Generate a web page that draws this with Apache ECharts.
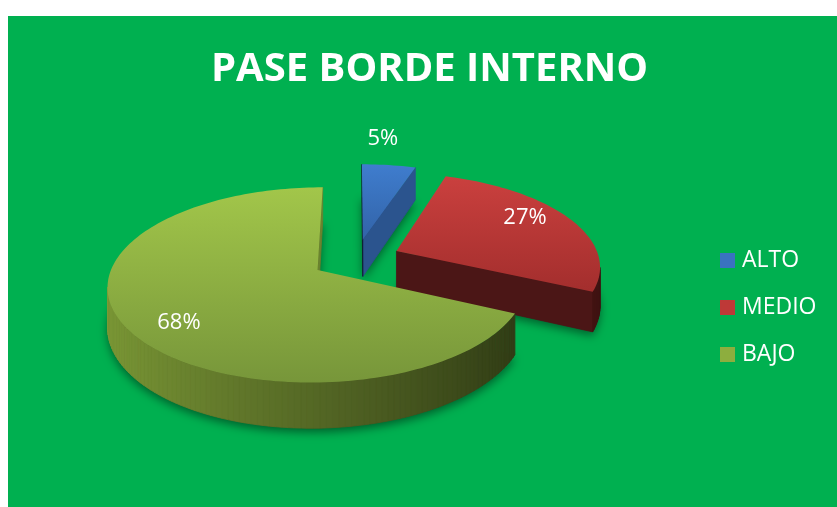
<!DOCTYPE html>
<html>
<head>
<meta charset="utf-8">
<script src="https://cdn.jsdelivr.net/npm/echarts@6.0.0/dist/echarts.min.js"></script>
<style>
  html, body { margin: 0; padding: 0; background: #fff; }
  #chart { position: absolute; left: 8px; top: 16px; width: 829px; height: 491px; }
</style>
</head>
<body>
<div id="chart"></div>
<script>
// data
var categories = ['ALTO', 'MEDIO', 'BAJO']
var values = [5, 27, 68]

// look
var colors = ['#3A72C0', '#BE3937', '#8DAE3E']
var topLight = ['#3F7DCE', '#CA403E', '#A2C64A']
var topDark = ['#3263A8', '#A32E2D', '#77963A']

// fake 3d pie: projection of a flat disk with a little perspective
var geo = { cx: 348, cy: 243, A: 203, B: 92, e: 0.15, T: 38, E: 0.22 }

function project(u, v, z, kx, ky) {
  var w = 1 / (1 + geo.e * v)
  return [geo.cx + geo.A * (kx || 1) * u * w, geo.cy - geo.B * (ky || 1) * v * w + geo.T * w * z]
}

function shade(hex, f) {
  var n = parseInt(hex.slice(1), 16)
  var r = Math.min(255, Math.round(((n >> 16) & 255) * f))
  var g = Math.min(255, Math.round(((n >> 8) & 255) * f))
  var b = Math.min(255, Math.round((n & 255) * f))
  return 'rgb(' + r + ',' + g + ',' + b + ')'
}

function area(pts) {
  var s = 0
  for (var i = 0; i < pts.length; i++) {
    var p = pts[i], q = pts[(i + 1) % pts.length]
    s += p[0] * q[1] - q[0] * p[1]
  }
  return s
}

function face(pts, color) {
  return {
    type: 'polygon',
    shape: { points: pts },
    style: { fill: color, stroke: color, lineWidth: 0.8 }
  }
}

function renderSlice(idx) {
  return function (params, api) {
    var total = values.reduce(function (a, b) { return a + b }, 0)
    var before = 0
    for (var j = 0; j < idx; j++) before += values[j]
    var a0 = before / total * Math.PI * 2
    var a1 = (before + values[idx]) / total * Math.PI * 2
    var m = (a0 + a1) / 2
    var ou = geo.E * Math.sin(m)
    var ov = geo.E * Math.cos(m)
    var pt = function (r, th, z) {
      return project(ou + r * Math.sin(th), ov + r * Math.cos(th), z)
    }
    var n = Math.max(2, Math.ceil((a1 - a0) / (Math.PI / 120)))
    var arcT = [], arcB = [], ths = []
    for (var k = 0; k <= n; k++) {
      var th = a0 + (a1 - a0) * k / n
      ths.push(th)
      arcT.push(pt(1, th, 0))
      arcB.push(pt(1, th, 1))
    }
    var base = colors[idx]
    var children = []

    // bottom, only used to cast the soft shadow
    children.push({
      type: 'polygon',
      shape: { points: [pt(0, 0, 1)].concat(arcB) },
      style: {
        fill: shade(base, 0.4),
        shadowBlur: 10,
        shadowOffsetY: 4,
        shadowColor: 'rgba(0,0,0,0.45)'
      }
    })

    // cut faces
    var endFace = [pt(0, 0, 0), arcT[n], arcB[n], pt(0, 0, 1)]
    if (area(endFace) > 0) {
      children.push(face(endFace, shade(base, 0.5 + 0.25 * Math.sin(a1 + Math.PI / 2))))
    }
    var startFace = [arcT[0], pt(0, 0, 0), pt(0, 0, 1), arcB[0]]
    if (area(startFace) > 0) {
      children.push(face(startFace, shade(base, 0.5 + 0.25 * Math.sin(a0 - Math.PI / 2))))
    }

    // outer rim
    for (var s = 0; s < n; s++) {
      var quad = [arcT[s + 1], arcT[s], arcB[s], arcB[s + 1]]
      if (area(quad) > 0) {
        var u = Math.sin((ths[s] + ths[s + 1]) / 2)
        children.push(face(quad, shade(base, 0.6 - 0.28 * u)))
      }
    }

    // top
    children.push({
      type: 'polygon',
      shape: { points: [pt(0, 0, 0)].concat(arcT) },
      style: {
        fill: new echarts.graphic.LinearGradient(0, 0, 0, 1, [
          { offset: 0, color: topLight[idx] },
          { offset: 1, color: topDark[idx] }
        ])
      }
    })

    // label: small slices get it above the rim, others on the top face
    var share = values[idx] / total
    var outside = share < 0.1
    var lp
    if (outside) {
      lp = pt(1, m, 0)
      lp = [lp[0] - 6, lp[1] - 26]
    } else {
      lp = project(ou + 0.7 * Math.sin(m), ov + 0.7 * Math.cos(m), 0, 1.04, 1.3)
    }
    children.push({
      type: 'text',
      x: lp[0],
      y: lp[1],
      style: {
        text: Math.round(share * 100) + '%',
        fill: '#fff',
        font: '22px "Open Sans"',
        align: 'center',
        verticalAlign: 'middle'
      }
    })

    return { type: 'group', children: children }
  }
}

var chart = echarts.init(document.getElementById('chart'))

var series = categories.map(function (name, i) {
  return {
    name: name,
    type: 'custom',
    coordinateSystem: 'none',
    silent: true,
    itemStyle: { color: colors[i] },
    renderItem: renderSlice(i),
    data: [[i]]
  }
})

chart.setOption({
  backgroundColor: '#00B050',
  animation: false,
  title: {
    text: 'PASE BORDE INTERNO',
    left: 203,
    top: 29,
    padding: [5, 0, 5, 0],
    textStyle: {
      color: '#fff',
      fontFamily: 'Open Sans',
      fontWeight: 'bold',
      fontSize: 40
    }
  },
  legend: {
    orient: 'vertical',
    left: 707,
    top: 228,
    itemWidth: 15,
    itemHeight: 15,
    itemGap: 24,
    icon: 'rect',
    data: categories,
    textStyle: {
      color: '#fff',
      fontFamily: 'Open Sans',
      fontSize: 23,
      lineHeight: 23,
      padding: [0, 0, 0, 2]
    }
  },
  series: series
})
</script>
</body>
</html>
